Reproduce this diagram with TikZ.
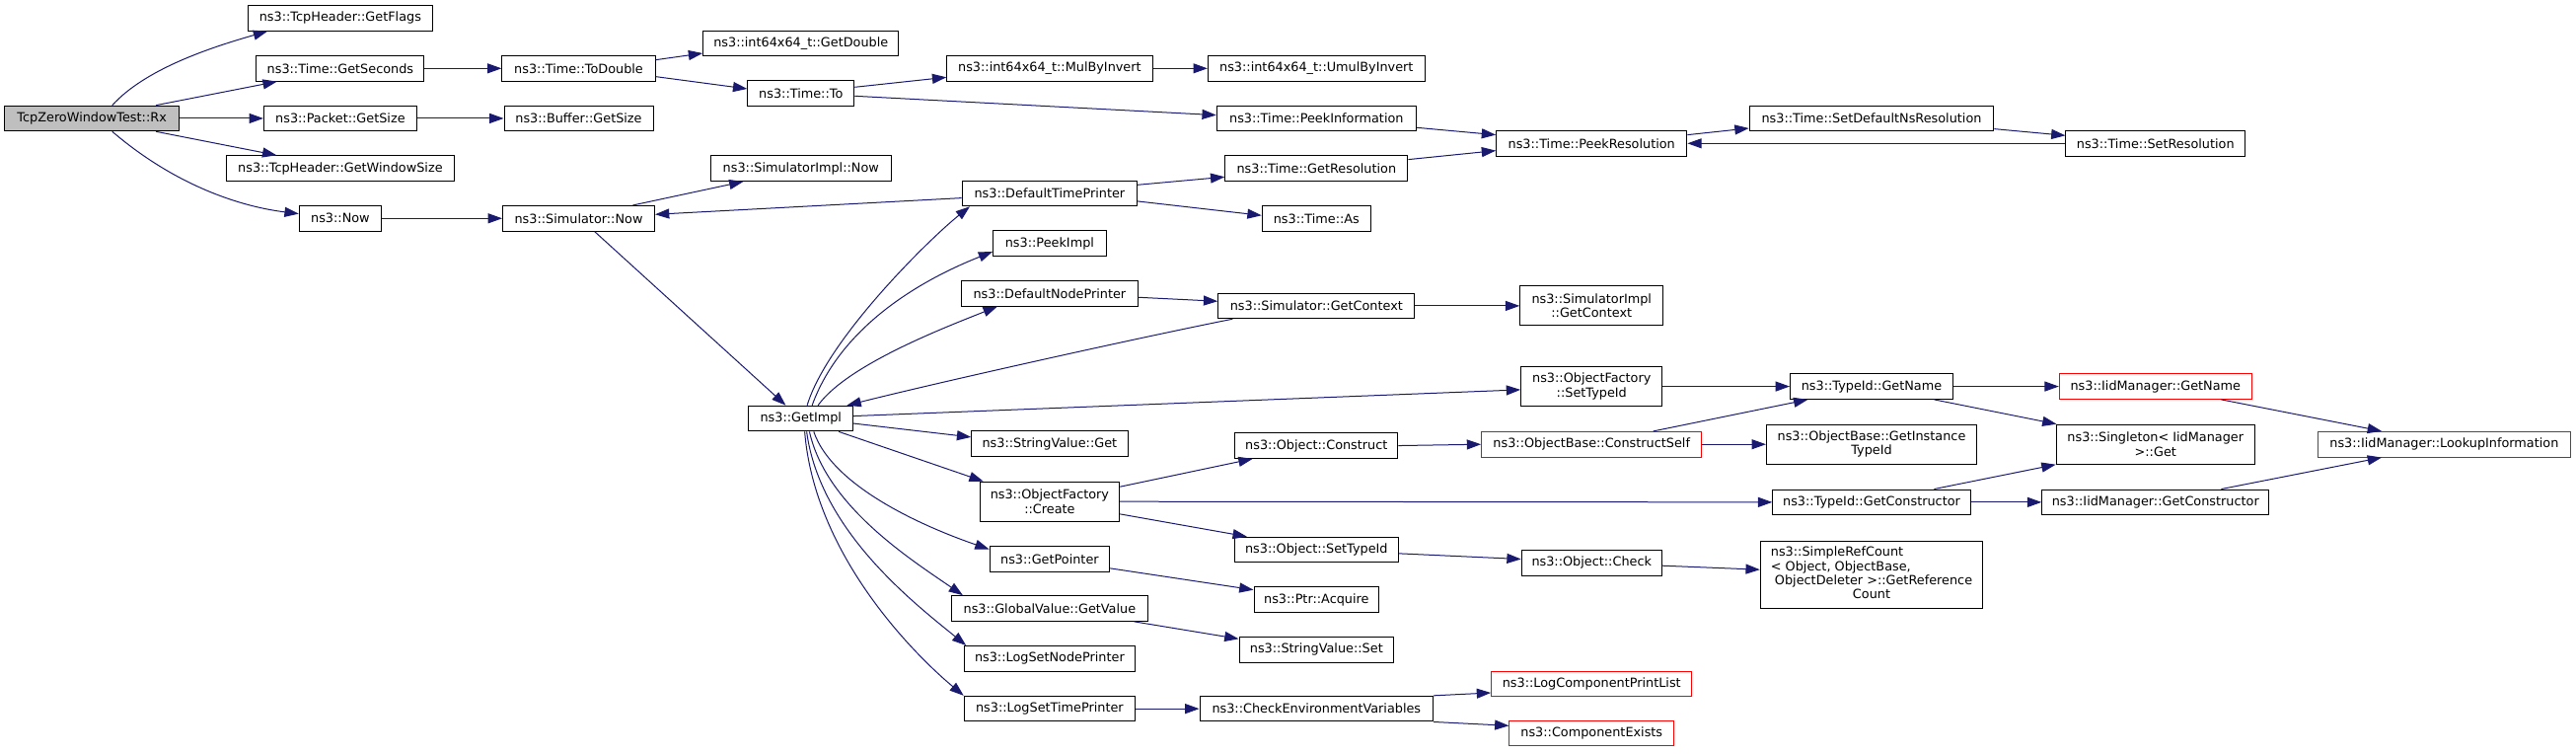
\documentclass[tikz,border=0pt]{standalone}
\usepackage{fontspec}
\setmainfont{DejaVu Sans}
\usetikzlibrary{arrows.meta}
\definecolor{edgeblue}{HTML}{191970}
\definecolor{rxgray}{HTML}{BFBFBF}
\begin{document}
\begin{tikzpicture}[x=1pt,y=1pt,
  fn/.style={draw=black, line width=0.6pt, inner xsep=0pt, inner ysep=0pt, minimum height=15.4pt, font=\fontsize{7.7}{8.6}\selectfont, align=center, fill=white},
  fn2/.style={fn, minimum height=24pt},
  fnred/.style={fn, draw=red},
  ed/.style={draw=edgeblue, line width=0.6pt, -{Triangle[length=8.6pt,width=6pt]}},
]
\useasboundingbox[fill=white] (0,0) rectangle (1567,-458);
% rank 0
\node[fn, minimum width=106.5pt, fill=rxgray] (rx) at (55.9,-72) {TcpZeroWindowTest::Rx};
% rank 1
\node[fn, minimum width=112pt] (gf) at (207,-11) {ns3::TcpHeader::GetFlags};
\node[fn, minimum width=102pt] (gs) at (207,-41.6) {ns3::Time::GetSeconds};
\node[fn, minimum width=93pt] (pgs) at (207,-72) {ns3::Packet::GetSize};
\node[fn, minimum width=138.5pt] (gws) at (207,-102.4) {ns3::TcpHeader::GetWindowSize};
\node[fn, minimum width=50pt] (now) at (207,-132.8) {ns3::Now};
% rank 2
\node[fn, minimum width=93.2pt] (td) at (352,-41.6) {ns3::Time::ToDouble};
\node[fn, minimum width=90.6pt] (bgs) at (352,-72) {ns3::Buffer::GetSize};
\node[fn, minimum width=92.4pt] (snow) at (352,-132.8) {ns3::Simulator::Now};
% rank 3
\node[fn, minimum width=119pt] (gd) at (487.2,-26.4) {ns3::int64x64\_t::GetDouble};
\node[fn, minimum width=64.8pt] (tto) at (487.2,-56.8) {ns3::Time::To};
\node[fn, minimum width=109.6pt] (sinow) at (487.2,-102.4) {ns3::SimulatorImpl::Now};
\node[fn, minimum width=63.4pt] (gi) at (487.2,-254.5) {ns3::GetImpl};
% rank 4
\node[fn, minimum width=125pt] (mul) at (638.5,-41.6) {ns3::int64x64\_t::MulByInvert};
\node[fn, minimum width=106.5pt] (dtp) at (638.5,-117.6) {ns3::DefaultTimePrinter};
\node[fn, minimum width=68.7pt] (pki) at (638.5,-148) {ns3::PeekImpl};
\node[fn, minimum width=107pt] (dnp) at (638.5,-178.4) {ns3::DefaultNodePrinter};
\node[fn, minimum width=95pt] (svg) at (638.5,-269.8) {ns3::StringValue::Get};
\node[fn2, minimum width=85pt] (ofc) at (638.5,-305) {ns3::ObjectFactory\\::Create};
\node[fn, minimum width=73pt] (gp) at (638.5,-340) {ns3::GetPointer};
\node[fn, minimum width=119pt] (gv) at (638.5,-370) {ns3::GlobalValue::GetValue};
\node[fn, minimum width=104pt] (lsnp) at (638.5,-400.5) {ns3::LogSetNodePrinter};
\node[fn, minimum width=104pt] (lstp) at (638.5,-431) {ns3::LogSetTimePrinter};
% rank 5
\node[fn, minimum width=132pt] (umul) at (800.8,-41.6) {ns3::int64x64\_t::UmulByInvert};
\node[fn, minimum width=121.3pt] (pinf) at (800.8,-72) {ns3::Time::PeekInformation};
\node[fn, minimum width=111pt] (gres) at (800.8,-102.4) {ns3::Time::GetResolution};
\node[fn, minimum width=66.2pt] (tas) at (800.8,-132.8) {ns3::Time::As};
\node[fn, minimum width=119.5pt] (sgc) at (800.8,-186) {ns3::Simulator::GetContext};
\node[fn, minimum width=99pt] (oc) at (800.8,-271) {ns3::Object::Construct};
\node[fn, minimum width=100pt] (ost) at (800.8,-334.3) {ns3::Object::SetTypeId};
\node[fn, minimum width=76pt] (acq) at (800.8,-364.7) {ns3::Ptr::Acquire};
\node[fn, minimum width=94pt] (svs) at (800.8,-395) {ns3::StringValue::Set};
\node[fn, minimum width=142pt] (cev) at (800.8,-431) {ns3::CheckEnvironmentVariables};
% rank 6
\node[fn, minimum width=116pt] (pres) at (968.2,-87.2) {ns3::Time::PeekResolution};
\node[fn2, minimum width=87pt] (sigc) at (968.2,-186) {ns3::SimulatorImpl\\::GetContext};
\node[fn2, minimum width=86pt] (ofst) at (968.2,-235) {ns3::ObjectFactory\\::SetTypeId};
\node[fnred, minimum width=134pt] (cs) at (968.2,-270.2) {ns3::ObjectBase::ConstructSelf};
\node[fn, minimum width=85.3pt] (chk) at (968.2,-342.3) {ns3::Object::Check};
\node[fnred, minimum width=122pt] (lcpl) at (968.2,-416) {ns3::LogComponentPrintList};
\node[fnred, minimum width=100pt] (cex) at (968.2,-446) {ns3::ComponentExists};
% rank 7
\node[fn, minimum width=148.7pt] (sdns) at (1138.5,-72) {ns3::Time::SetDefaultNsResolution};
\node[fn, minimum width=99pt] (tgn) at (1138.5,-235) {ns3::TypeId::GetName};
\node[fn2, minimum width=128pt] (git) at (1138.5,-270.2) {ns3::ObjectBase::GetInstance\\TypeId};
\node[fn, minimum width=120.3pt] (tgc) at (1138.5,-305.4) {ns3::TypeId::GetConstructor};
\node[draw=black, line width=0.6pt, inner xsep=0pt, inner ysep=0pt, fill=white, minimum width=135.3pt, minimum height=41.2pt, font=\fontsize{7.7}{8.6}\selectfont] (src) at (1138.5,-349.5) {\begin{tabular}{@{}l@{}}ns3::SimpleRefCount\\< Object, ObjectBase,\\\ ObjectDeleter >::GetReference\\\multicolumn{1}{@{}c@{}}{Count}\end{tabular}};
% rank 8
\node[fn, minimum width=109pt] (sres) at (1311.2,-87.2) {ns3::Time::SetResolution};
\node[fnred, minimum width=117pt] (ign) at (1311.2,-235) {ns3::IidManager::GetName};
\node[fn2, minimum width=120.8pt] (sg) at (1311.2,-270.2) {ns3::Singleton< IidManager\\>::Get};
\node[fn, minimum width=138pt] (igc) at (1311.2,-305.4) {ns3::IidManager::GetConstructor};
% rank 9
\node[fnred, minimum width=153.5pt] (lk) at (1486.8,-270.2) {ns3::IidManager::LookupInformation};
% edges
\draw[ed] ([xshift=12.4pt]rx.north) .. controls +(20,22) and +(-35,-10) .. ([xshift=12pt]gf.south west);
\draw[ed] ([xshift=39pt]rx.north) -- ([xshift=12.8pt]gs.south west);
\draw[ed] (rx.east) -- (pgs.west);
\draw[ed] ([xshift=39pt]rx.south) -- ([xshift=30.8pt]gws.north west);
\draw[ed] ([xshift=12.4pt]rx.south) .. controls +(35,-30) and +(-40,5) .. ([yshift=2.8pt]now.west);
\draw[ed] (gs.east) -- (td.west);
\draw[ed] (pgs.east) -- (bgs.west);
\draw[ed] (now.east) -- (snow.west);
\draw[ed] ([yshift=5.2pt]td.east) -- ([yshift=-6pt]gd.west);
\draw[ed] ([yshift=-5pt]td.east) -- ([yshift=2.8pt]tto.west);
\draw[ed] ([yshift=3.8pt]tto.east) -- ([yshift=-5.4pt]mul.west);
\draw[ed] ([yshift=-1.6pt]tto.east) -- ([yshift=2pt]pinf.west);
\draw[ed] (mul.east) -- (umul.west);
\draw[ed] ([yshift=-5.6pt]pinf.east) -- ([yshift=5.2pt]pres.west);
\draw[ed] ([yshift=5.4pt]gres.east) -- ([yshift=-4.4pt]pres.west);
\draw[ed] ([yshift=5.2pt]pres.east) -- ([yshift=-6pt]sdns.west);
\draw[ed] ([yshift=-6.4pt]sdns.east) -- ([yshift=4.8pt]sres.west);
\draw[ed] (sres.west) -- (pres.east);
\draw[ed] ([xshift=33pt]snow.north) -- ([xshift=-35pt]sinow.south);
\draw[ed] ([yshift=-2.8pt]dtp.west) -- ([yshift=2.4pt]snow.east);
\draw[ed] ([yshift=5.2pt]dtp.east) -- ([yshift=-5.2pt]gres.west);
\draw[ed] ([yshift=-4.8pt]dtp.east) -- ([yshift=1.8pt]tas.west);
\draw[ed] ([xshift=9.7pt]snow.south) -- ([xshift=-9.2pt]gi.north);
\draw[ed] ([xshift=3.8pt]gi.north) .. controls +(12,40) and +(-25,-20) .. ([xshift=5pt]dtp.south west);
\draw[ed] ([xshift=6.8pt]gi.north) .. controls +(20,55) and +(-30,-12) .. ([yshift=-5pt]pki.west);
\draw[ed] ([xshift=10.4pt]gi.north) .. controls +(18,25) and +(-30,-12) .. ([xshift=22pt]dnp.south west);
\draw[ed] ([xshift=9pt]sgc.south west) .. controls +(-60,-12) and +(60,15) .. ([xshift=-4pt]gi.north east);
\draw[ed] ([yshift=-2.4pt]dnp.east) -- ([yshift=2.8pt]sgc.west);
\draw[ed] (sgc.east) -- (sigc.west);
\draw[ed] ([yshift=1.5pt]gi.east) -- ([yshift=-2pt]ofst.west);
\draw[ed] ([yshift=-3pt]gi.east) -- ([yshift=4pt]svg.west);
\draw[ed] ([xshift=-9pt]gi.south east) -- ([xshift=2.5pt]ofc.north west);
\draw[ed] ([xshift=7.8pt]gi.south) .. controls +(12,-35) and +(-35,12) .. ([yshift=-2pt]gp.north west);
\draw[ed] ([xshift=5.2pt]gi.south) .. controls +(10,-45) and +(-32,22) .. ([xshift=7pt]gv.north west);
\draw[ed] ([xshift=3.5pt]gi.south) .. controls +(8,-60) and +(-32,26) .. ([xshift=1.5pt]lsnp.north west);
\draw[ed] ([xshift=2.3pt]gi.south) .. controls +(6,-75) and +(-30,25) .. (lstp.north west);
\draw[ed] ([yshift=9pt]ofc.east) -- ([xshift=11pt]oc.south west);
\draw[ed] (ofc.east) -- (tgc.west);
\draw[ed] ([yshift=-7.6pt]ofc.east) -- ([xshift=8pt]ost.north west);
\draw[ed] (oc.east) -- (cs.west);
\draw[ed] ([xshift=37.5pt]cs.north) -- ([xshift=11pt]tgn.south west);
\draw[ed] (cs.east) -- (git.west);
\draw[ed] (ofst.east) -- (tgn.west);
\draw[ed] (tgn.east) -- (ign.west);
\draw[ed] ([xshift=38pt]tgn.south) -- ([xshift=0.5pt]sg.north west);
\draw[ed] ([xshift=40pt]ign.south) -- ([xshift=-38pt]lk.north);
\draw[ed] ([xshift=38pt]tgc.north) -- (sg.south west);
\draw[ed] (tgc.east) -- (igc.west);
\draw[ed] ([xshift=40pt]igc.north) -- ([xshift=-38pt]lk.south);
\draw[ed] ([yshift=-2.3pt]ost.east) -- ([yshift=2.3pt]chk.west);
\draw[ed] ([yshift=-1.7pt]chk.east) -- ([yshift=3.1pt]src.west);
\draw[ed] ([yshift=-5.6pt]gp.east) -- ([yshift=-2pt]acq.north west);
\draw[ed] ([xshift=-8.5pt]gv.south east) -- ([yshift=-1.5pt]svs.north west);
\draw[ed] (lstp.east) -- (cev.west);
\draw[ed] (cev.north east) -- ([yshift=2.7pt]lcpl.south west);
\draw[ed] (cev.south east) -- ([yshift=-3.3pt]cex.north west);
\end{tikzpicture}
\end{document}
